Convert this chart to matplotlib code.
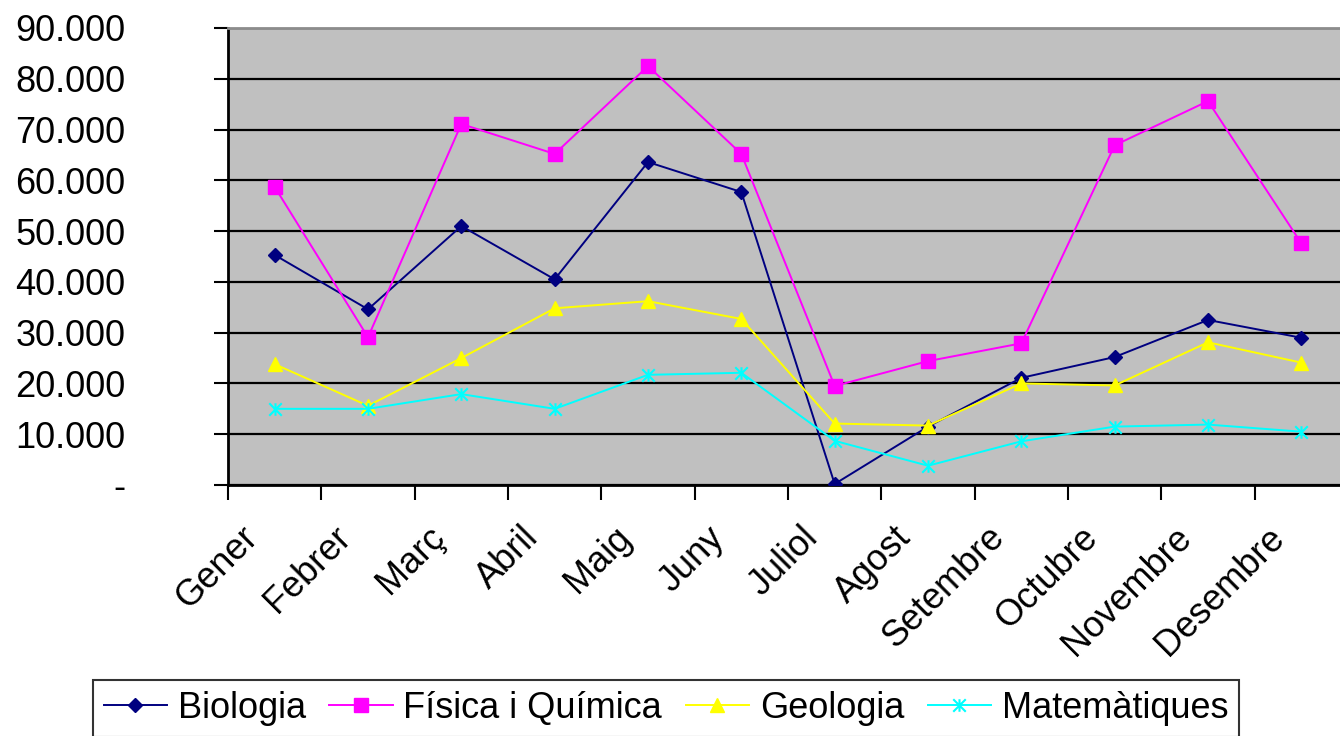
import numpy as np
import matplotlib
matplotlib.use("Agg")
import matplotlib.pyplot as plt
from matplotlib.path import Path
from matplotlib.transforms import ScaledTranslation
from matplotlib.ticker import FuncFormatter

months = ["Gener", "Febrer", "Març", "Abril", "Maig", "Juny", "Juliol",
          "Agost", "Setembre", "Octubre", "Novembre", "Desembre"]
biologia = [45300, 34600, 51000, 40500, 63600, 57700, 200, 11500, 21100, 25200, 32500, 29000]
fisica = [58700, 29100, 71100, 65200, 82500, 65200, 19500, 24400, 27900, 66900, 75600, 47600]
geologia = [23800, 15600, 25000, 34800, 36200, 32700, 12100, 11700, 20000, 19600, 28100, 24100]
matematiques = [15000, 15000, 17900, 15000, 21700, 22100, 8700, 3800, 8600, 11500, 11900, 10500]
series_names = ["Biologia", "Física i Química", "Geologia", "Matemàtiques"]
yticks = list(range(0, 90001, 10000))

plt.rcParams['font.family'] = ['Liberation Sans', 'DejaVu Sans']

W, H = 1340, 736
fig = plt.figure(figsize=(W / 100, H / 100), dpi=100)
left, right, top, bottom = 228, 1348, 28, 485
ax = fig.add_axes([left / W, 1 - bottom / H, (right - left) / W, (bottom - top) / H])
ax.set_facecolor('#C0C0C0')

x = np.arange(len(months))
star_x = Path([(-1, -1), (1, 1), (-1, 1), (1, -1), (0, -1), (0, 1)],
              [Path.MOVETO, Path.LINETO] * 3)

ax.plot(x, biologia, color='#000080', lw=1.4, marker='D', ms=7, label=series_names[0], zorder=3)
ax.plot(x, fisica, color='#FF00FF', lw=1.4, marker='s', ms=10, label=series_names[1], zorder=3)
ax.plot(x, geologia, color='#FFFF00', lw=1.4, marker='^', ms=10, label=series_names[2], zorder=3)
ax.plot(x, matematiques, color='#00FFFF', lw=1.4, marker=star_x, ms=9, mew=1.5,
        label=series_names[3], zorder=3)

ax.set_xlim(-0.5, len(months) - 0.5)
ax.set_ylim(0, 90000)
ax.set_yticks(yticks)
ax.yaxis.set_major_formatter(FuncFormatter(
    lambda v, p: '-' if v == 0 else f"{int(v):,}".replace(',', '.')))
ax.tick_params(axis='y', direction='out', length=10, width=1.5, labelsize=26, pad=64)

ax.set_xticks(np.arange(-0.5, len(months)), labels=[])
ax.tick_params(axis='x', which='major', direction='out', length=11, width=1.5)
ax.set_xticks(x, labels=months, minor=True)
ax.tick_params(axis='x', which='minor', length=0, labelsize=26, pad=34)
for lab in ax.get_xticklabels(minor=True):
    lab.set_rotation(45)
    lab.set_ha('right')
    lab.set_va('center')
    lab.set_rotation_mode('anchor')
    lab.set_transform(lab.get_transform() + ScaledTranslation(-0.22, 0, fig.dpi_scale_trans))

ax.grid(axis='y', color='black', lw=1.6)
ax.set_axisbelow(True)
for s in ['left', 'bottom']:
    ax.spines[s].set_color('black')
    ax.spines[s].set_linewidth(2)
ax.spines['top'].set_color('#8C8C8C')
ax.spines['top'].set_linewidth(2)
ax.spines['right'].set_color('#8C8C8C')

leg = fig.legend(loc='upper left', bbox_to_anchor=(93 / W, 1 - 680 / H), ncol=4,
                 fontsize=26, frameon=True, fancybox=False, edgecolor='black',
                 handlelength=1.75, handletextpad=0.3, columnspacing=0.65,
                 borderpad=0.3, borderaxespad=0)
leg.get_frame().set_linewidth(1.5)

fig.savefig('out.png', dpi=100, facecolor='white')
